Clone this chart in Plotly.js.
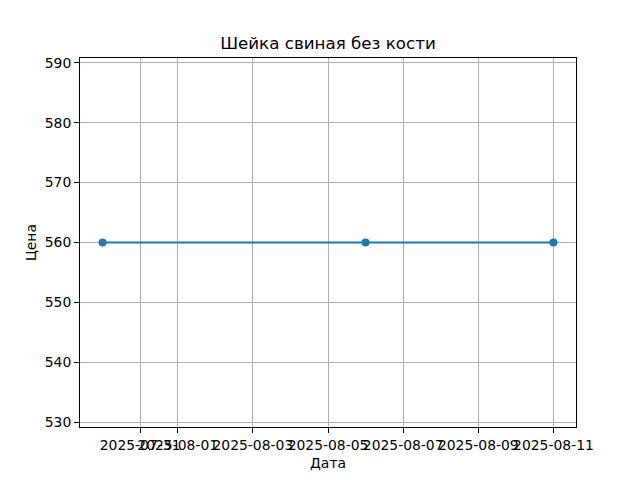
<!DOCTYPE html>
<html>
<head>
<meta charset="utf-8">
<script src="https://cdn.plot.ly/plotly-3.0.1.min.js"></script>
<style>html,body{margin:0;padding:0;background:#fff;}#chart{width:640px;height:480px;}</style>
</head>
<body>
<div id="chart"></div>
<script>
const dates = ["2025-07-30", "2025-08-06", "2025-08-11"];
const prices = [560, 560, 560];
const xTickVals = ["2025-07-31", "2025-08-01", "2025-08-03", "2025-08-05", "2025-08-07", "2025-08-09", "2025-08-11"];
const xTickText = ["2025-07-31", "2025-08-01", "2025-08-03", "2025-08-05", "2025-08-07", "2025-08-09", "2025-08-11"];
const yTickVals = [530, 540, 550, 560, 570, 580, 590];

const font = {family: "DejaVu Sans", size: 13.9, color: "#000"};

const trace = {
  x: dates, y: prices, type: "scatter", mode: "lines+markers",
  line: {color: "#1f77b4", width: 2},
  marker: {color: "#1f77b4", size: 8},
  showlegend: false, hoverinfo: "none"
};

const axisCommon = {
  showline: true, mirror: true, linecolor: "#000", linewidth: 1,
  ticks: "outside", ticklen: 5, tickwidth: 1, tickcolor: "#000",
  showgrid: true, gridcolor: "#b0b0b0", gridwidth: 1,
  zeroline: false, tickfont: font, tickangle: 0, automargin: false
};

const layout = {
  width: 640, height: 480,
  margin: {l: 80, r: 64, t: 58, b: 53, pad: 0},
  paper_bgcolor: "#fff", plot_bgcolor: "#fff",
  font: font,
  title: {
    text: "Шейка свиная без кости",
    font: {family: "DejaVu Sans", size: 16.7, color: "#000"},
    x: 0.5, xref: "paper", xanchor: "center",
    y: 1 - 43 / 480, yref: "container", yanchor: "middle"
  },
  xaxis: Object.assign({}, axisCommon, {
    type: "date",
    range: ["2025-07-29 09:36", "2025-08-11 14:24"],
    tickmode: "array", tickvals: xTickVals, ticktext: xTickText,
    title: {text: "Дата", font: font, standoff: 6}
  }),
  yaxis: Object.assign({}, axisCommon, {
    range: [529.2, 590.8],
    tickmode: "array", tickvals: yTickVals,
    title: {text: "Цена", font: font, standoff: 4}
  })
};

Plotly.newPlot("chart", [trace], layout, {staticPlot: true, displayModeBar: false});
</script>
</body>
</html>
